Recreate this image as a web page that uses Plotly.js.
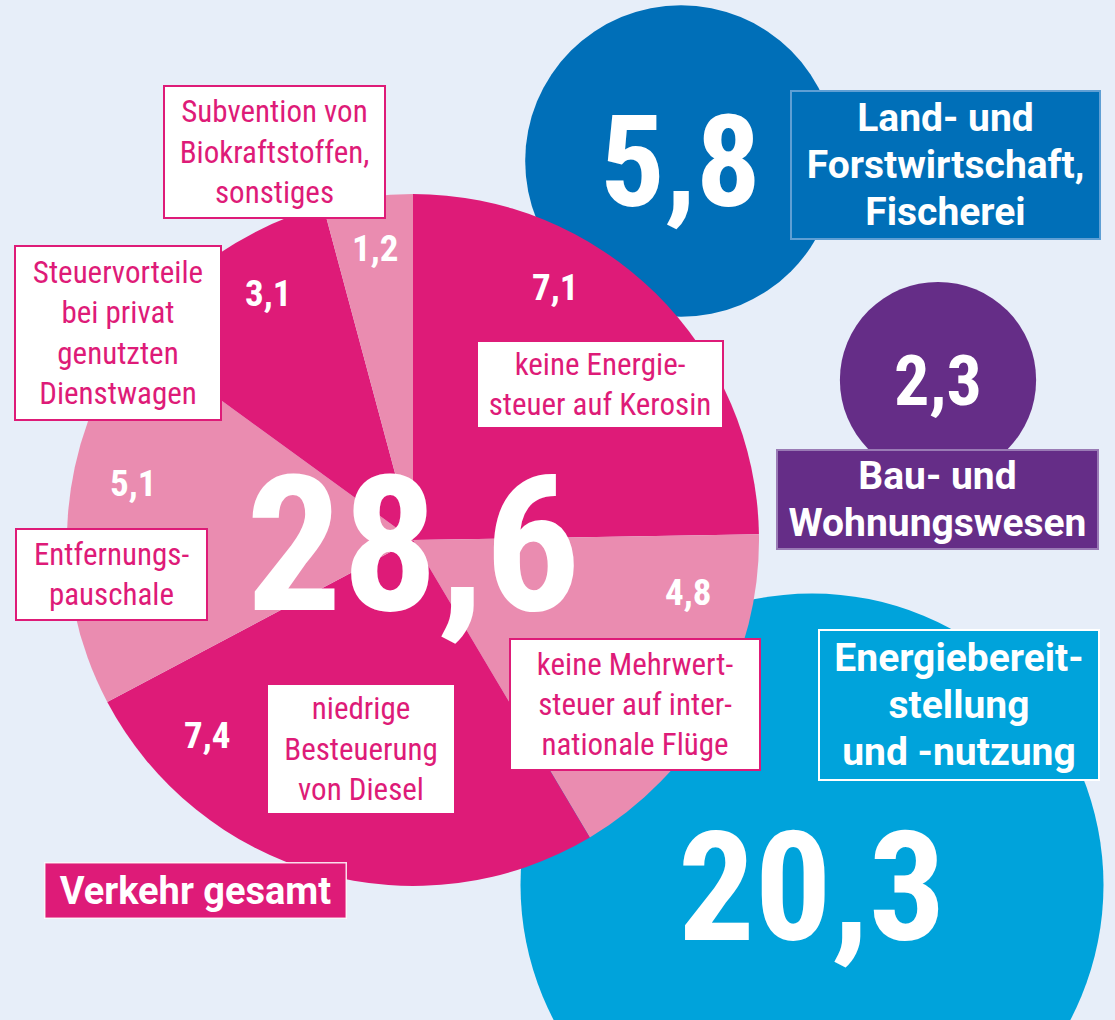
<!DOCTYPE html>
<html><head><meta charset="utf-8">
<script src="https://cdn.plot.ly/plotly-3.0.1.min.js"></script>
<style>html,body{margin:0;padding:0;background:#e7eef9;} #chart{width:1115px;height:1020px;}</style>
</head><body><div id="chart"></div>
<script>
// ---------- data ----------
const sliceLabels = [
  "keine Energie-<br>steuer auf Kerosin",
  "keine Mehrwert-<br>steuer auf inter-<br>nationale Flüge",
  "niedrige<br>Besteuerung<br>von Diesel",
  "Entfernungs-<br>pauschale",
  "Steuervorteile<br>bei privat<br>genutzten<br>Dienstwagen",
  "Subvention von<br>Biokraftstoffen,<br>sonstiges"
];
const sliceValues = [7.1, 4.8, 7.4, 5.1, 3.1, 1.2];
const totalLabel = "Verkehr gesamt";
const totalValue = 28.6;
const sectorLabels = [
  "Land- und<br>Forstwirtschaft,<br>Fischerei",
  "Bau- und<br>Wohnungswesen",
  "Energiebereit-<br>stellung<br>und -nutzung"
];
const sectorValues = [5.8, 2.3, 20.3];

// ---------- helpers ----------
function pickFont(cands) {
  const c = document.createElement('canvas').getContext('2d');
  const s = 'Subvention von Biokraftstoffen 28,6';
  for (const f of cands) {
    c.font = '40px monospace'; const a = c.measureText(s).width;
    c.font = '40px "' + f + '", monospace'; const b = c.measureText(s).width;
    c.font = '40px serif'; const a2 = c.measureText(s).width;
    c.font = '40px "' + f + '", serif'; const b2 = c.measureText(s).width;
    if (Math.abs(a - b) > 0.5 && Math.abs(a2 - b2) > 0.5) return f;
  }
  return 'sans-serif';
}
const FONT = pickFont(["Roboto Condensed", "Liberation Sans Narrow", "DejaVu Sans Condensed", "Noto Sans Condensed", "Roboto"]);
const BFONT = pickFont(["Roboto", "Noto Sans", "Liberation Sans"]);
const fmt = v => v.toFixed(1).replace('.', ',');

const W = 1115, H = 1020;
const BG = '#e7eef9', PINK = '#de1b78', LPINK = '#ea8cb0', BLUE = '#006fb8', PURPLE = '#652d87', CYAN = '#00a3db';

const pieGeo = {cx: 413, cy: 540, r: 346};
const sliceColors = [PINK, LPINK, PINK, LPINK, PINK, LPINK];
// layout of slice label boxes: [cx, cy, w, h]
const sliceBoxes = [[600, 384, 248, 89], [635, 704, 252, 133], [361, 749, 190, 132], [111, 574, 193, 93], [118, 333, 208, 176], [274, 152, 223, 134]];
const sliceNumPos = [[555, 287], [688, 592], [207, 735], [133, 483], [268, 293], [375, 248]];
const sectorCenters = [[681, 161], [938, 380], [812, 885]];
const sectorColors = [BLUE, PURPLE, CYAN];
const sectorBoxes = [[945, 165, 311, 150], [937, 499, 323, 101], [959, 705, 282, 152]];
const sectorBorders = ['#5f9fd4', '#9a7bb5', '#ffffff'];
const sectorNumSize = [128, 70, 152];
const sectorNumPos = [[680, 162], [938, 381], [812, 888]];

// ---------- traces ----------
const circles = {
  type: 'scatter', mode: 'markers',
  x: sectorCenters.map(p => p[0]), y: sectorCenters.map(p => p[1]),
  marker: {
    size: sectorValues, sizemode: 'area',
    sizeref: totalValue / (2 * pieGeo.r * pieGeo.r),
    color: sectorColors, line: {width: 0}, opacity: 1
  },
  hoverinfo: 'skip', cliponaxis: true
};
const pie = {
  type: 'pie', values: sliceValues, labels: sliceLabels,
  sort: false, direction: 'clockwise', rotation: 0,
  marker: {colors: sliceColors, line: {width: 0}},
  textinfo: 'none', hoverinfo: 'none',
  domain: {x: [(pieGeo.cx - pieGeo.r) / W, (pieGeo.cx + pieGeo.r) / W],
           y: [1 - (pieGeo.cy + pieGeo.r) / H, 1 - (pieGeo.cy - pieGeo.r) / H]}
};

// ---------- annotations ----------
const ann = [];
function box(text, b, font, bg, border, bw) {
  ann.push({xref: 'x', yref: 'y', x: b[0], y: b[1], xanchor: 'center', yanchor: 'middle',
    text: text, showarrow: false, align: 'center', valign: 'middle',
    width: b[2] - 2 * bw, height: b[3] - 2 * bw, borderpad: 0, borderwidth: bw,
    bgcolor: bg, bordercolor: border, font: font});
}
function label(text, p, size, color) {
  ann.push({xref: 'x', yref: 'y', x: p[0], y: p[1], xanchor: 'center', yanchor: 'middle',
    text: '<b>' + text + '</b>', showarrow: false,
    font: {family: FONT, size: size, color: color, weight: 700}});
}
const big = t => t.split('<br>').map(s => '<span style="font-size:39px"><b>' + s + '</b></span>').join('<br>');
sliceLabels.forEach((t, i) => box(t, sliceBoxes[i], {family: FONT, size: 31, color: PINK}, '#ffffff', PINK, 2));
sliceValues.forEach((v, i) => label(fmt(v), sliceNumPos[i], 37, '#ffffff'));
label(fmt(totalValue), [413, 545], 190, '#ffffff');
box('<b>' + totalLabel + '</b>', [195, 890, 303, 57], {family: BFONT, size: 38, color: '#ffffff', weight: 700}, PINK, 'rgba(255,255,255,0.85)', 1.5);
sectorLabels.forEach((t, i) => box(big(t), sectorBoxes[i], {family: BFONT, size: 36, color: '#ffffff', weight: 700}, sectorColors[i], sectorBorders[i], 2));
sectorValues.forEach((v, i) => label(fmt(v), sectorNumPos[i], sectorNumSize[i], '#ffffff'));

const layout = {
  width: W, height: H, margin: {l: 0, r: 0, t: 0, b: 0, pad: 0},
  paper_bgcolor: BG, plot_bgcolor: BG, showlegend: false, hovermode: false,
  xaxis: {range: [0, W], visible: false, fixedrange: true},
  yaxis: {range: [H, 0], visible: false, fixedrange: true},
  annotations: ann
};
Plotly.newPlot('chart', [circles, pie], layout, {staticPlot: true, displayModeBar: false});
</script></body></html>
